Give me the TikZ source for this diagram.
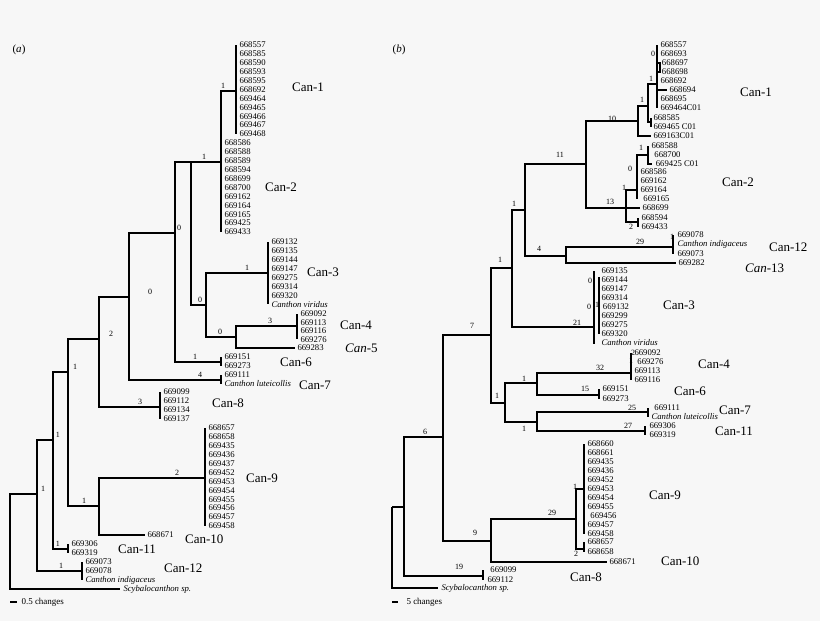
\documentclass[tikz,border=0pt]{standalone}
\usepackage{fontspec}
\setmainfont{Liberation Serif}
\usetikzlibrary{positioning}

\tikzset{
  br/.style={line width=1.1pt},
  lf/.style={font=\fontsize{8.7}{8.7}\selectfont, inner sep=0.3pt, anchor=west},
  cl/.style={font=\fontsize{13}{13}\selectfont, inner sep=0pt, anchor=west},
  bl/.style={font=\fontsize{8}{8}\selectfont, inner sep=0pt, anchor=south}
}
% list of leaves: name, x, first y, step, labels
\newcommand{\taxa}[5]{%
  \foreach \t [count=\i from 0] in {#5}
    \node[lf] (#1-\i) at (#2,{#3+\i*#4}) {\t};}

\begin{document}
\begin{tikzpicture}[x=1pt,y=-1pt]
	\useasboundingbox[fill=black!3] (0,0) rectangle (820,621);
	\node[font=\fontsize{11}{11}\selectfont] (pa) at (19,50) {(\textit{a})};
	\node[font=\fontsize{11}{11}\selectfont] (pb) at (399,50) {(\textit{b})};

	% ---- panel a: internal nodes
	\coordinate (a0) at (10,532);
	\coordinate (a1) at (37,494);
	\coordinate (a2) at (53,440);
	\coordinate (a3) at (68,372);
	\coordinate (a4) at (99,339);
	\coordinate (a5) at (129,297);
	\coordinate (a6) at (175,233);
	\coordinate (a7) at (191,162);
	\coordinate (a8) at (221,162);
	\coordinate (a10) at (206,305);
	\coordinate (a11) at (236,337);
	\coordinate (a9) at (99,506);
	% groups
	\coordinate (ac1) at (236,91);
	\coordinate (ac2) at (221,232);
	\coordinate (ac3) at (268,273);
	\coordinate (ac4) at (297,326);
	\coordinate (ac5) at (295,348);
	\coordinate (ac6) at (221,362);
	\coordinate (ac7) at (221,380);
	\coordinate (ac8) at (160,407);
	\coordinate (ac9) at (205,478);
	\coordinate (ac10) at (145,535);
	\coordinate (ac11) at (68,549);
	\coordinate (ac12) at (82,571);
	\coordinate (asc) at (120,589);

	\draw[br] (a0) |- (a1) (a0) |- (asc);
	\draw[br] (a1) |- (a2) (a1) |- (ac12);
	\draw[br] (a2) |- (a3) (a2) |- (ac11);
	\draw[br] (a3) |- (a4) (a3) |- (a9);
	\draw[br] (a4) |- (a5) (a4) |- (ac8);
	\draw[br] (a5) |- (a6) (a5) |- (ac7);
	\draw[br] (a6) |- (a7) (a6) |- (ac6);
	\draw[br] (a7) |- (a8) (a7) |- (a10);
	\draw[br] (a8) |- (ac1) (a8) -- (ac2);
	\draw[br] (a10) |- (ac3) (a10) |- (a11);
	\draw[br] (a11) |- (ac4) (a11) |- (ac5);
	\draw[br] (a9) |- (ac9) (a9) |- (ac10);
	% leaf bars
	\draw[br] (236,45) -- (236,134);
	\draw[br] (268,242) -- (268,304);
	\draw[br] (297,314) -- (297,339);
	\draw[br] (221,357) -- (221,366);
	\draw[br] (221,375) -- (221,384);
	\draw[br] (160,392) -- (160,419);
	\draw[br] (205,428) -- (205,526);
	\draw[br] (68,544) -- (68,553);
	\draw[br] (82,562) -- (82,580);

	% leaves
	\taxa{la1}{239}{45}{8.9}{668557,668585,668590,668593,668595,668692,669464,669465,669466,669467,669468}
	\taxa{la2}{224}{143}{8.9}{668586,668588,668589,668594,668699,668700,669162,669164,669165,669425,669433}
	\taxa{la3}{271}{242}{8.9}{669132,669135,669144,669147,669275,669314,669320,\textit{Canthon viridus}}
	\taxa{la4}{300}{314}{8.4}{669092,669113,669116,669276}
	\node[lf] (la5) at (297,348) {669283};
	\taxa{la6}{224}{357}{9}{669151,669273}
	\taxa{la7}{224}{375}{9}{669111,\textit{Canthon luteicollis}}
	\taxa{la8}{163}{392}{9}{669099,669112,669134,669137}
	\taxa{la9}{208}{428}{8.9}{668657,668658,669435,669436,669437,669452,669453,669454,669455,669456,669457,669458}
	\node[lf] (la10) at (147,535) {668671};
	\taxa{la11}{71}{544}{9}{669306,669319}
	\taxa{la12}{85}{562}{9}{669073,669078,\textit{Canthon indigaceus}}
	\node[lf] (lasc) at (123,589) {\textit{Scybalocanthon sp.}};

	% group names
	\node[cl] (ga1) at (292,87) {Can-1};
	\node[cl] (ga2) at (265,187) {Can-2};
	\node[cl] (ga3) at (307,272) {Can-3};
	\node[cl] (ga4) at (340,325) {Can-4};
	\node[cl] (ga5) at (345,348) {\textit{Can}-5};
	\node[cl] (ga6) at (280,362) {Can-6};
	\node[cl] (ga7) at (299,385) {Can-7};
	\node[cl] (ga8) at (212,403) {Can-8};
	\node[cl] (ga9) at (246,478) {Can-9};
	\node[cl] (ga10) at (185,539) {Can-10};
	\node[cl] (ga11) at (118,549) {Can-11};
	\node[cl] (ga12) at (164,568) {Can-12};

	% branch lengths
	\foreach \x/\y/\t in {223/89/1,204/160/1,179/231/0,200/303/0,247/271/1,270/324/3,220/335/0,
	  150/295/0,195/360/1,200/378/4,111/337/2,140/405/3,75/370/1,84/504/1,177/476/2,
	  58/438/1,58/547/1,43/492/1,61/569/1}
	  \node[bl] at (\x,\y) {\t};

	% scale
	\draw[br] (10,602) coordinate (sa0) -- (17,602) coordinate (sa1);
	\node[lf, font=\fontsize{9}{9}\selectfont] (sal) at (21,602) {0.5 changes};

	% ---- panel b: internal nodes
	\coordinate (b0) at (392,507);
	\coordinate (b1) at (404,507);
	\coordinate (b2) at (443,437);
	\coordinate (b3) at (491,335);
	\coordinate (b4) at (491,541);
	\coordinate (bB) at (512,268);
	\coordinate (bC) at (505,403);
	\coordinate (bD) at (525,210);
	\coordinate (bE) at (586,164);
	\coordinate (bF) at (638,121);
	\coordinate (bG) at (648,106);
	\coordinate (bH) at (657,84);
	\coordinate (bG2) at (651,122);
	\coordinate (bI) at (626,208);
	\coordinate (bJ) at (637,190);
	\coordinate (bK) at (638,222);
	\coordinate (bL) at (648,155);
	\coordinate (bM) at (566,256);
	\coordinate (bMn) at (673,247);
	\coordinate (bN) at (537,383);
	\coordinate (bO) at (537,422);
	\coordinate (b9) at (576,519);
	% groups
	\coordinate (bsc) at (438,588);
	\coordinate (bc8) at (483,576);
	\coordinate (bc10) at (607,562);
	\coordinate (bc9) at (584,489);
	\coordinate (bc9s) at (584,549);
	\coordinate (bc3) at (594,327);
	\coordinate (bc4) at (631,373);
	\coordinate (bc6) at (599,395);
	\coordinate (bc7) at (648,412);
	\coordinate (bc11) at (645,431);
	\coordinate (b163) at (651,136);
	\coordinate (b699) at (640,208);
	\coordinate (b282) at (676,263);

	\draw[br] (b0) -- (b1) (b0) |- (bsc);
	\draw[br] (b1) |- (b2) (b1) |- (bc8);
	\draw[br] (b2) |- (b3) (b2) |- (b4);
	\draw[br] (b3) |- (bB) (b3) |- (bC);
	\draw[br] (bB) |- (bD) (bB) |- (bc3);
	\draw[br] (bD) |- (bE) (bD) |- (bM);
	\draw[br] (bE) |- (bF) (bE) |- (bI);
	\draw[br] (bF) |- (bG) (bF) |- (b163);
	\draw[br] (bG) |- (bH) (bG) |- (bG2);
	\draw[br] (bI) |- (bJ) (bI) -- (b699) (bI) |- (bK);
	\draw[br] (bJ) |- (bL);
	\draw[br] (bM) |- (bMn) (bM) |- (b282);
	\draw[br] (bC) |- (bN) (bC) |- (bO);
	\draw[br] (bN) |- (bc4) (bN) |- (bc6);
	\draw[br] (bO) |- (bc7) (bO) |- (bc11);
	\draw[br] (b4) |- (b9) (b4) |- (bc10);
	\draw[br] (b9) |- (bc9) (b9) |- (bc9s);
	% leaf bars
	\draw[br] (657,45) -- (657,108);
	\draw[br] (657,63) -| (660,72) -- (657,72);
	\draw[br] (657,90) -- (667,90);
	\draw[br] (651,118) -- (651,127);
	\draw[br] (637,172) -- (637,199);
	\draw[br] (648,146) -- (648,164) -- (652,164);
	\draw[br] (638,218) -- (638,227);
	\draw[br] (673,235) -- (673,254);
	\draw[br] (594,271) -- (594,344);
	\draw[br] (599,277) -- (599,334);
	\draw[br] (631,353) -- (631,380);
	\draw[br] (599,389) -- (599,399);
	\draw[br] (648,408) -- (648,417);
	\draw[br] (645,426) -- (645,435);
	\draw[br] (584,444) -- (584,534);
	\draw[br] (584,542) -- (584,552);
	\draw[br] (483,570) -- (483,580);

	% leaves
	\taxa{lb1}{660}{45}{9}{668557,668693,\,668697,\,668698,668692,\hspace{9pt}668694,668695,669464C01}
	\taxa{lb2}{653}{118}{9}{668585,669465 C01}
	\node[lf] (lb3) at (653,136) {669163C01};
	\taxa{lb4}{651}{146}{9}{668588,\,\,668700,\,\,\,669425 C01}
	\taxa{lb5}{640}{172}{9}{668586,669162,669164,\,\,669165}
	\node[lf] (lb6) at (642,208) {668699};
	\taxa{lb7}{641}{218}{9}{668594,669433}
	\taxa{lb8}{677}{235}{9.5}{669078,\textit{Canthon indigaceus},669073}
	\node[lf] (lb9) at (678,263) {669282};
	\taxa{lb10}{601}{271}{9}{669135,669144,669147,669314,\,669132,669299,669275,669320,\textit{Canthon viridus}}
	\taxa{lb11}{634}{353}{9}{669092,\,\,669276,669113,669116}
	\taxa{lb12}{602}{389}{10}{669151,669273}
	\taxa{lb13}{651}{408}{9}{\,\,669111,\textit{Canthon luteicollis}}
	\taxa{lb14}{649}{426}{9}{669306,669319}
	\taxa{lb15}{587}{444}{9}{668660,668661,669435,669436,669452,669453,669454,669455,\,\,669456,669457,669458}
	\taxa{lb16}{587}{542}{9.5}{668657,668658}
	\node[lf] (lb17) at (609,562) {668671};
	\taxa{lb18}{487}{570}{10}{\,\,669099,669112}
	\node[lf] (lbsc) at (441,588) {\textit{Scybalocanthon sp.}};

	% group names
	\node[cl] (gb1) at (740,92) {Can-1};
	\node[cl] (gb2) at (722,182) {Can-2};
	\node[cl] (gb12) at (769,247) {Can-12};
	\node[cl] (gb13) at (745,268) {\textit{Can}-13};
	\node[cl] (gb3) at (663,305) {Can-3};
	\node[cl] (gb4) at (698,364) {Can-4};
	\node[cl] (gb6) at (674,391) {Can-6};
	\node[cl] (gb7) at (719,410) {Can-7};
	\node[cl] (gb11) at (715,431) {Can-11};
	\node[cl] (gb9) at (649,495) {Can-9};
	\node[cl] (gb10) at (661,561) {Can-10};
	\node[cl] (gb8) at (570,577) {Can-8};

	% branch lengths
	\foreach \x/\y/\t in {425/435/6,459/570/19,472/329/7,475/536/9,500/263/1,497/399/1,514/207/1,
	  560/158/11,539/252/4,612/122/10,610/205/13,642/103/1,651/82/1,653/57/0,640/245/29,
	  672/240/1,577/326/21,590/284/0,589/310/0,597/308/1,624/191/1,630/172/0,641/151/1,631/230/2,
	  552/516/29,575/490/1,576/557/2,524/382/1,524/432/1,600/371/32,585/392/15,633/356/2,
	  631/364/1,632/411/25,628/429/27}
	  \node[bl] at (\x,\y) {\t};

	% scale
	\draw[br] (392,602) coordinate (sb0) -- (398,602) coordinate (sb1);
	\node[lf, font=\fontsize{9}{9}\selectfont] (sbl) at (406,602) {5 changes};
\end{tikzpicture}
\end{document}
